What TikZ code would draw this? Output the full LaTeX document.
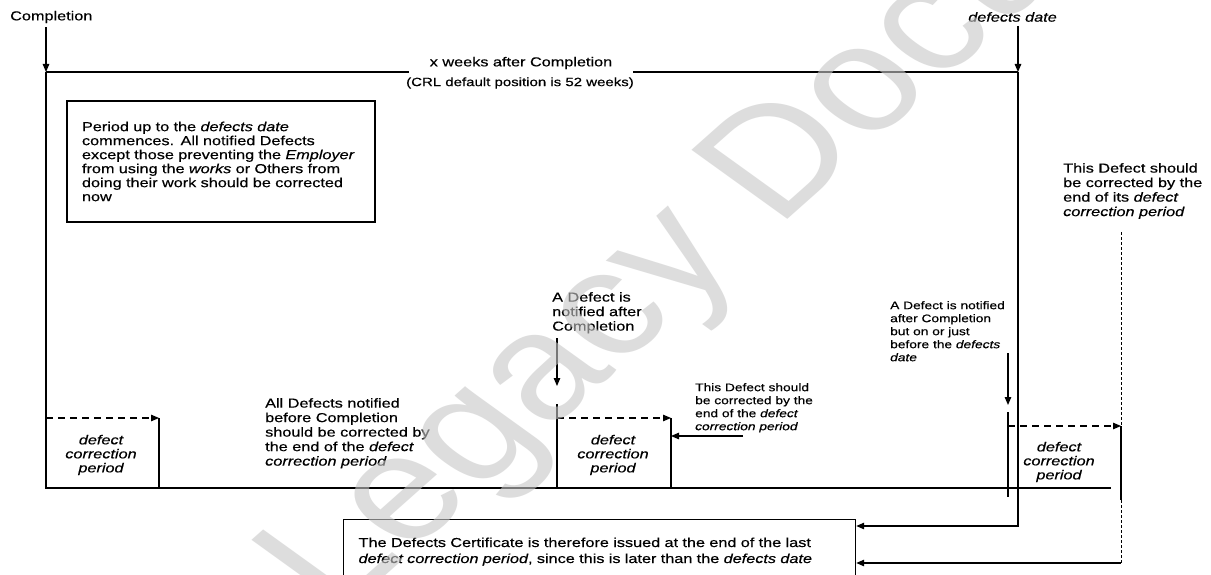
\documentclass[tikz,border=0pt]{standalone}
\usepackage{fontspec}
\setmainfont{Liberation Sans}[FakeStretch=1.25,FakeBold=0.4]
\newfontfamily\wmfont{Liberation Sans}
\usetikzlibrary{arrows.meta}
\definecolor{wmgray}{gray}{0.78}

\begin{document}
\begin{tikzpicture}[x=1pt,y=-1pt,
  stroke/.style={line width=1.2pt},
  arr/.style={stroke,-{Triangle[length=8pt,width=6.5pt]}},
  darr/.style={arr,dash pattern=on 7pt off 5pt},
  fine/.style={line width=0.7pt,dash pattern=on 3pt off 2pt},
  lbl/.style={inner sep=0pt,font=\fontsize{13}{14.5}\selectfont},
  note/.style={lbl,align=left,anchor=north west},
  small/.style={inner sep=0pt,align=left,anchor=north west,font=\fontsize{11}{13}\selectfont},
  dcp/.style={inner sep=0pt,align=center,font=\fontsize{13}{14}\selectfont\itshape},
]
\useasboundingbox[fill=white] (0,0) rectangle (1211,575);

% time line: Completion to defects date
\node[lbl,anchor=west] (cmpl) at (10,17) {Completion};
\node[lbl,anchor=east] (ddate) at (1057,17) {\itshape defects date};
\coordinate (c0) at (46,72);
\coordinate (d0) at (1018,72);
\coordinate (bl) at (46,488);
\coordinate (br) at (1111,488);
\draw[arr] ([yshift=-4pt]cmpl.south -| c0) -- (c0);
\draw[arr] ([yshift=-4pt]ddate.south -| d0) -- (d0);

\node[lbl,inner xsep=21pt] (xw) at (521,63) {x weeks after Completion};
\node[lbl,font=\fontsize{12}{14}\selectfont] (crl) at (520,83) {(CRL default position is 52 weeks)};
\draw[stroke] (c0) -- (c0 -| xw.west);
\draw[stroke] (d0 -| xw.east) -- (d0);
\draw[stroke] (c0) -- (bl) -- (br);

% explanatory box
\node[draw,stroke,minimum width=308pt,minimum height=121pt,text width=278pt,inner xsep=15pt,
      align=left,font=\fontsize{13}{14}\selectfont] (p1) at (221,161.5)
  {Period up to the \textit{defects date}\\
   commences. All notified Defects\\
   except those preventing the \textit{Employer}\\
   from using the \textit{works} or Others from\\
   doing their work should be corrected\\
   now};

% Defects notified before Completion
\coordinate (s1) at (46,418);
\coordinate (e1) at (159,418);
\draw[darr] (s1) -- (e1);
\draw[stroke] (e1) -- (e1 |- bl);
\node[dcp] (k1) at (101,455) {defect\\correction\\period};
\node[note] (t1) at (265,398)
  {All Defects notified\\
   before Completion\\
   should be corrected by\\
   the end of the \textit{defect}\\
   \textit{correction period}};

% Defect notified after Completion
\node[note] (n2) at (552,292) {A Defect is\\notified after\\Completion};
\coordinate (m1) at (557,338);
\coordinate (m2) at (557,386);
\coordinate (s2) at (557,404);
\coordinate (e2) at (671,418);
\draw[arr] (m1) -- (m2);
\draw[stroke] (s2) -- (s2 |- bl);
\draw[darr] (s2 |- e2) -- (e2);
\draw[stroke] (e2) -- (e2 |- bl);
\node[dcp] (k2) at (613,455) {defect\\correction\\period};
\node[small] (t2) at (695,383)
  {This Defect should\\
   be corrected by the\\
   end of the \textit{defect}\\
   \textit{correction period}};
\coordinate (q2) at (743,436);
\draw[arr] (q2) -- (q2 -| e2);

% Defect notified just before the defects date
\node[small] (n3) at (890,301)
  {A Defect is notified\\
   after Completion\\
   but on or just\\
   before the \textit{defects}\\
   \textit{date}};
\coordinate (m3) at (1008,353);
\coordinate (m4) at (1008,405);
\coordinate (s3) at (1008,412);
\coordinate (s3b) at (1008,497);
\coordinate (e3) at (1121,426);
\coordinate (e3b) at (1121,500);
\coordinate (e3t) at (1121,232);
\coordinate (e3z) at (1121,563);
\draw[arr] (m3) -- (m4);
\draw[stroke] (s3) -- (s3b);
\draw[darr] (s3 |- e3) -- (e3);
\draw[stroke] (e3) -- (e3b);
\draw[fine] (e3t) -- (e3);
\draw[fine] (e3b) -- (e3z);
\node[dcp] (k3) at (1059,462) {defect\\correction\\period};
\node[note] (t3) at (1063,163)
  {This Defect should\\
   be corrected by the\\
   end of its \textit{defect}\\
   \textit{correction period}};

% Defects Certificate
\node[draw,stroke,anchor=north west,text width=482pt,inner xsep=15pt,inner ysep=18pt,
      align=left,font=\fontsize{13}{16}\selectfont] (cert) at (343,519)
  {The Defects Certificate is therefore issued at the end of the last\\
   \textit{defect correction period}, since this is later than the \textit{defects date}};
\coordinate (a1) at (1018,526);
\draw[arr] (d0) |- (a1 -| cert.east);
\draw[arr] (e3z) -- (e3z -| cert.east);

% watermark
\begin{scope}[xscale=1.25]
  \node[transform shape,rotate=48,text=wmgray,text opacity=0.6,inner sep=0pt,
        font=\wmfont\fontsize{150}{150}\selectfont] (wm) at (648,145) {Legacy Document};
\end{scope}
\end{tikzpicture}
\end{document}
